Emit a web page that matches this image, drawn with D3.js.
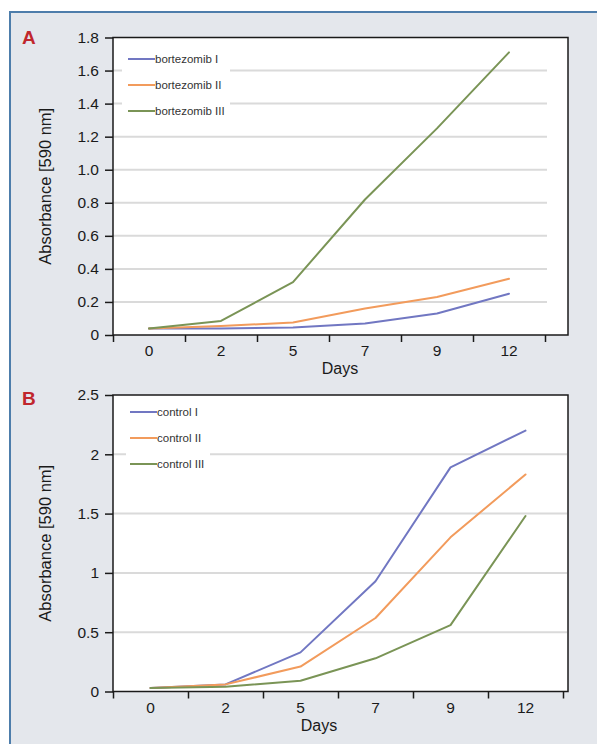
<!DOCTYPE html>
<html>
<head>
<meta charset="utf-8">
<script src="https://cdn.jsdelivr.net/npm/d3@7"></script>
<style>
  body { margin: 0; background: #fff; }
  svg { display: block; }
  text { font-family: "Liberation Sans", Arial, sans-serif; }
</style>
</head>
<body>
<div id="chart"></div>
<script>
// data
var days = ["0", "2", "5", "7", "9", "12"];

var namesA = ["bortezomib I", "bortezomib II", "bortezomib III"];
var bortezomibI   = [0.04, 0.04, 0.045, 0.07, 0.13, 0.25];
var bortezomibII  = [0.04, 0.055, 0.075, 0.16, 0.23, 0.34];
var bortezomibIII = [0.04, 0.085, 0.32, 0.82, 1.25, 1.71];
var yTicksA = [0, 0.2, 0.4, 0.6, 0.8, 1.0, 1.2, 1.4, 1.6, 1.8];

var namesB = ["control I", "control II", "control III"];
var controlI   = [0.03, 0.06, 0.33, 0.93, 1.89, 2.20];
var controlII  = [0.03, 0.06, 0.21, 0.62, 1.30, 1.83];
var controlIII = [0.03, 0.04, 0.09, 0.28, 0.56, 1.48];
var yTicksB = [0, 0.5, 1, 1.5, 2, 2.5];

var colors = ["#7177c2", "#f29b5c", "#7a9456"];

var svgWidth = 597;
var svgHeight = 744;

var svg = d3.select("#chart")
  .append("svg")
  .attr("width", svgWidth)
  .attr("height", svgHeight);

// frame
svg.append("rect")
  .attr("x", 10).attr("y", 12)
  .attr("width", svgWidth - 10).attr("height", svgHeight - 12)
  .attr("fill", "#e4e7ec");
svg.append("line")
  .attr("x1", 9).attr("x2", svgWidth).attr("y1", 12).attr("y2", 12)
  .attr("stroke", "#4d7dab").attr("stroke-width", 2);
svg.append("line")
  .attr("x1", 10).attr("x2", 10).attr("y1", 12).attr("y2", svgHeight)
  .attr("stroke", "#4d7dab").attr("stroke-width", 2);

function drawPanel(p) {
  var g = svg.append("g");

  var x = d3.scaleBand().domain(days).range([p.left, p.bandRight]);
  var xEdge = d3.scaleLinear().domain([0, days.length]).range([p.left, p.bandRight]);
  var y = d3.scaleLinear().domain([0, p.max]).range([p.bottom, p.top]);

  g.append("rect")
    .attr("x", p.left).attr("y", p.top)
    .attr("width", p.right - p.left).attr("height", p.bottom - p.top)
    .attr("fill", "#fff");

  // gridlines
  g.selectAll(".grid")
    .data(p.ticks.filter(d => d > 0 && d < p.max))
    .enter()
    .append("line")
    .attr("x1", p.left).attr("x2", p.gridRight)
    .attr("y1", d => y(d)).attr("y2", d => y(d))
    .attr("stroke", "#dadada")
    .attr("stroke-width", 2);

  // legend box hides the grid behind it
  g.append("rect")
    .attr("x", p.legend.x0).attr("y", p.legend.y0)
    .attr("width", p.legend.w).attr("height", p.legend.h)
    .attr("fill", "#fff");

  var line = d3.line()
    .x((d, i) => x(days[i]) + x.bandwidth() / 2)
    .y(d => y(d));

  g.selectAll(".series")
    .data(p.series)
    .enter()
    .append("path")
    .attr("d", d => line(d))
    .attr("fill", "none")
    .attr("stroke", (d, i) => colors[i])
    .attr("stroke-width", 2)
    .attr("stroke-linejoin", "round")
    .attr("stroke-linecap", "round");

  // plot border
  g.append("rect")
    .attr("x", p.left).attr("y", p.top)
    .attr("width", p.right - p.left).attr("height", p.bottom - p.top)
    .attr("fill", "none")
    .attr("stroke", "#1a1a1a")
    .attr("stroke-width", 1.5);

  var leftAxis = d3.axisLeft(y)
    .tickValues(p.ticks)
    .tickFormat(p.format)
    .tickSize(8)
    .tickPadding(6);

  var yAxis = g.append("g")
    .attr("transform", `translate(${p.left}, 0)`)
    .call(leftAxis);
  yAxis.select(".domain").remove();
  yAxis.selectAll("line").attr("stroke", "#1a1a1a").attr("stroke-width", 1.5);
  yAxis.selectAll("text")
    .attr("fill", "#1a1a1a")
    .style("font-size", "15.5px");

  var bottomAxis = d3.axisBottom(xEdge)
    .tickValues(d3.range(days.length + 1))
    .tickFormat("")
    .tickSize(7);

  var xAxis = g.append("g")
    .attr("transform", `translate(0, ${p.bottom})`)
    .call(bottomAxis);
  xAxis.select(".domain").remove();
  xAxis.selectAll("line").attr("stroke", "#1a1a1a").attr("stroke-width", 1.5);

  g.selectAll(".xlabel")
    .data(days)
    .enter()
    .append("text")
    .attr("x", d => x(d) + x.bandwidth() / 2)
    .attr("y", p.bottom + 21)
    .attr("text-anchor", "middle")
    .attr("fill", "#1a1a1a")
    .style("font-size", "15.5px")
    .text(d => d);

  g.append("text")
    .attr("x", p.daysX)
    .attr("y", p.bottom + 39)
    .attr("text-anchor", "middle")
    .attr("fill", "#1a1a1a")
    .style("font-size", "16px")
    .text("Days");

  g.append("text")
    .attr("transform", `translate(51, ${(p.top + p.bottom) / 2}) rotate(-90)`)
    .attr("text-anchor", "middle")
    .attr("fill", "#1a1a1a")
    .style("font-size", "16.5px")
    .text("Absorbance [590 nm]");

  g.append("text")
    .attr("x", 22)
    .attr("y", p.labelY)
    .attr("fill", "#c0272d")
    .style("font-size", "19px")
    .style("font-weight", "bold")
    .text(p.label);

  // legend
  var items = g.selectAll(".legend")
    .data(p.names)
    .enter()
    .append("g")
    .attr("transform", (d, i) => `translate(${p.legend.x}, ${p.legend.y + i * 26})`);
  items.append("line")
    .attr("x1", 0).attr("x2", 27)
    .attr("stroke", (d, i) => colors[i])
    .attr("stroke-width", 2);
  items.append("text")
    .attr("x", 27)
    .attr("y", 4)
    .attr("fill", "#333")
    .style("font-size", "11.5px")
    .text(d => d);
}

drawPanel({
  label: "A", labelY: 44,
  top: 37.5, bottom: 335, left: 113, right: 568, bandRight: 545, gridRight: 547,
  max: 1.8, ticks: yTicksA,
  format: d => d === 0 ? "0" : d.toFixed(1),
  series: [bortezomibI, bortezomibII, bortezomibIII],
  names: namesA,
  daysX: 340,
  legend: { x: 128, y: 59, x0: 122, y0: 45, w: 108, h: 79 }
});

drawPanel({
  label: "B", labelY: 405,
  top: 395, bottom: 691.5, left: 113, right: 568, bandRight: 563, gridRight: 567,
  max: 2.5, ticks: yTicksB,
  format: d => String(d),
  series: [controlI, controlII, controlIII],
  names: namesB,
  daysX: 319,
  legend: { x: 130, y: 412, x0: 126, y0: 400, w: 84, h: 75 }
});
</script>
</body>
</html>
